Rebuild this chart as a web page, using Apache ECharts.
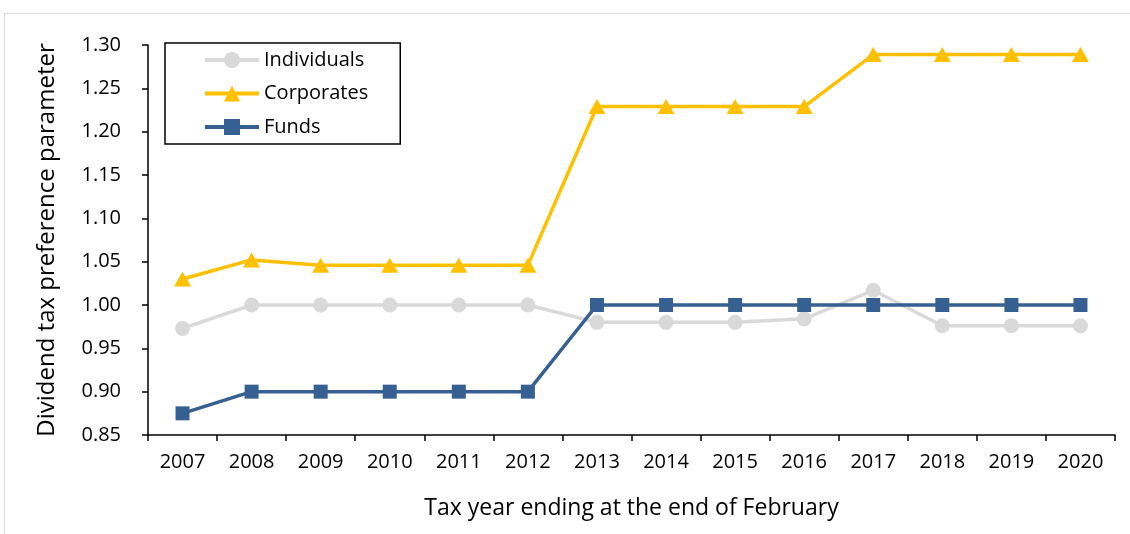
<!DOCTYPE html>
<html>
<head>
<meta charset="utf-8">
<script src="https://cdn.jsdelivr.net/npm/echarts@6/dist/echarts.min.js"></script>
<style>
  html, body { margin: 0; padding: 0; background: #fff; }
  #chart { width: 1130px; height: 534px; }
</style>
</head>
<body>
<div id="chart"></div>
<script>
// Tax years (ending in February)
const years = ['2007','2008','2009','2010','2011','2012','2013','2014','2015','2016','2017','2018','2019','2020'];

// Dividend tax preference parameter by investor type
const individuals = [0.973, 1.000, 1.000, 1.000, 1.000, 1.000, 0.980, 0.980, 0.980, 0.984, 1.017, 0.976, 0.976, 0.976];
const corporates  = [1.030, 1.052, 1.046, 1.046, 1.046, 1.046, 1.229, 1.229, 1.229, 1.229, 1.289, 1.289, 1.289, 1.289];
const funds       = [0.875, 0.900, 0.900, 0.900, 0.900, 0.900, 1.000, 1.000, 1.000, 1.000, 1.000, 1.000, 1.000, 1.000];

const font = 'Open Sans';
const chart = echarts.init(document.getElementById('chart'));

chart.setOption({
  animation: false,
  textStyle: { fontFamily: font, color: '#000' },
  graphic: [{
    type: 'rect',
    shape: { x: 4.5, y: 13.5, width: 1140, height: 540 },
    style: { fill: 'none', stroke: '#d9d9d9', lineWidth: 1 },
    silent: true
  }],
  grid: { left: 148, right: 15, top: 45, bottom: 99 },
  legend: {
    orient: 'vertical',
    left: 165,
    top: 43,
    itemWidth: 54,
    itemHeight: 20,
    itemGap: 13.5,
    padding: [7, 32, 7, 38],
    borderColor: '#000',
    borderWidth: 1.5,
    lineStyle: { width: 4 },
    textStyle: { fontFamily: font, fontSize: 20, color: '#000' },
    data: ['Individuals', 'Corporates', 'Funds']
  },
  xAxis: {
    type: 'category',
    data: years,
    boundaryGap: true,
    name: 'Tax year ending at the end of February',
    nameLocation: 'middle',
    nameGap: 62,
    nameTextStyle: { fontFamily: font, fontSize: 23, color: '#000' },
    axisLine: { lineStyle: { color: '#000', width: 1.5 } },
    axisTick: { show: true, length: 6, lineStyle: { color: '#000', width: 1.5 } },
    axisLabel: { fontFamily: font, fontSize: 20, color: '#000', margin: 17 },
    splitLine: { show: false }
  },
  yAxis: {
    type: 'value',
    min: 0.85,
    max: 1.30,
    interval: 0.05,
    name: 'Dividend tax preference parameter',
    nameLocation: 'middle',
    nameGap: 89,
    nameTextStyle: { fontFamily: font, fontSize: 24, color: '#000' },
    axisLine: { show: true, lineStyle: { color: '#000', width: 1.5 } },
    axisTick: { show: true, length: 6, lineStyle: { color: '#000', width: 1.5 } },
    axisLabel: {
      fontFamily: font, fontSize: 20, color: '#000', margin: 27,
      formatter: v => v.toFixed(2)
    },
    splitLine: { show: false }
  },
  series: [
    {
      name: 'Individuals',
      type: 'line',
      data: individuals,
      symbol: 'circle',
      symbolSize: 15,
      z: 2,
      itemStyle: { color: '#d9d9d9' },
      lineStyle: { color: '#d9d9d9', width: 3.5 }
    },
    {
      name: 'Corporates',
      type: 'line',
      data: corporates,
      symbol: 'triangle',
      symbolSize: [17, 15],
      z: 3,
      itemStyle: { color: '#ffc000' },
      lineStyle: { color: '#ffc000', width: 3.5 }
    },
    {
      name: 'Funds',
      type: 'line',
      data: funds,
      symbol: 'rect',
      symbolSize: 14,
      z: 4,
      itemStyle: { color: '#376092' },
      lineStyle: { color: '#376092', width: 3.5 }
    }
  ]
});
</script>
</body>
</html>
